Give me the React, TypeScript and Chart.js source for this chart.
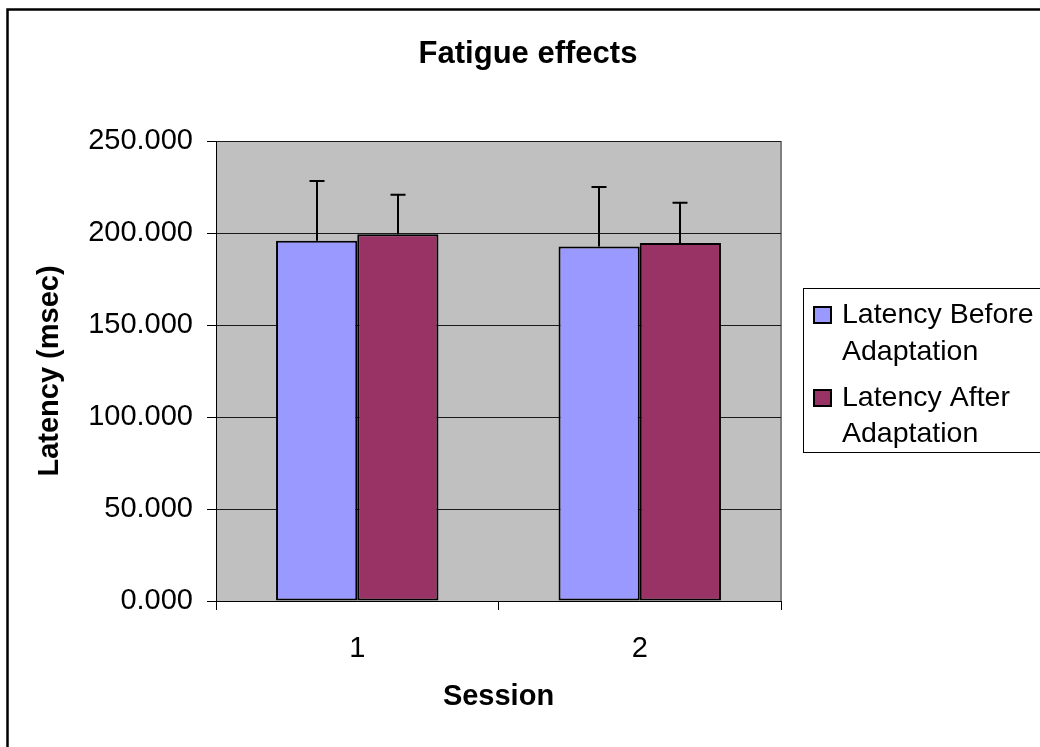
import React, { useEffect, useRef } from 'react';
import { Chart, registerables } from 'chart.js';

Chart.register(...registerables);

const categories = ['1', '2'];
const beforeValues = [195.8, 192.6];
const afterValues = [199.3, 194.6];
const beforeErrors = [32.5, 32.4];
const afterErrors = [21.5, 21.9];
const yTickLabels = ['0.000', '50.000', '100.000', '150.000', '200.000', '250.000'];
const seriesLabels = ['Latency Before Adaptation', 'Latency After Adaptation'];
const legendLines = [
  ['Latency Before', 'Adaptation'],
  ['Latency After', 'Adaptation'],
];
const seriesColors = ['#9999FF', '#993366'];
const titleText = 'Fatigue effects';
const yTitle = 'Latency (msec)';
const xTitle = 'Session';

const FONT = '"Liberation Sans", Arial, sans-serif';
const W = 1040;
const H = 747;

const errorSets = [beforeErrors, afterErrors];

const customPlugin = {
  id: 'customDecor',
  beforeDraw(chart: any) {
    const { ctx, chartArea: a } = chart;
    ctx.save();
    ctx.fillStyle = '#ffffff';
    ctx.fillRect(0, 0, chart.width, chart.height);
    ctx.fillStyle = '#C0C0C0';
    ctx.fillRect(a.left, a.top, a.right - a.left, a.bottom - a.top);
    ctx.strokeStyle = '#808080';
    ctx.lineWidth = 2;
    ctx.beginPath();
    ctx.moveTo(a.right, a.top);
    ctx.lineTo(a.right, a.bottom);
    ctx.stroke();
    ctx.strokeStyle = '#000000';
    ctx.lineWidth = 2.5;
    ctx.beginPath();
    ctx.moveTo(7.5, chart.height + 10);
    ctx.lineTo(7.5, 9.5);
    ctx.lineTo(chart.width + 10, 9.5);
    ctx.stroke();
    ctx.restore();
  },
  afterDatasetsDraw(chart: any) {
    const { ctx } = chart;
    const yScale = chart.scales.y;
    ctx.save();
    ctx.strokeStyle = '#000000';
    ctx.lineWidth = 2;
    chart.data.datasets.forEach((ds: any, i: number) => {
      const meta = chart.getDatasetMeta(i);
      meta.data.forEach((el: any, j: number) => {
        const v = ds.data[j];
        const yTop = yScale.getPixelForValue(v + errorSets[i][j]);
        const x = Math.round(el.x);
        ctx.beginPath();
        ctx.moveTo(x, el.y);
        ctx.lineTo(x, yTop);
        ctx.moveTo(x - 7.5, yTop);
        ctx.lineTo(x + 7.5, yTop);
        ctx.stroke();
      });
    });
    ctx.restore();
  },
  afterDraw(chart: any) {
    const { ctx } = chart;
    ctx.save();
    ctx.fillStyle = '#000000';
    ctx.font = `bold 31px ${FONT}`;
    ctx.textAlign = 'center';
    ctx.textBaseline = 'alphabetic';
    ctx.fillText(titleText, 528, 63);

    ctx.strokeStyle = '#000000';
    ctx.lineWidth = 1;
    ctx.strokeRect(803.5, 288.5, 300, 164);
    ctx.font = `28.5px ${FONT}`;
    ctx.textAlign = 'left';
    const baselines = [
      [323, 360],
      [406, 442],
    ];
    legendLines.forEach((lines, i) => {
      const b = baselines[i];
      ctx.fillStyle = seriesColors[i];
      ctx.fillRect(813, b[0] - 17, 19, 18);
      ctx.strokeStyle = '#000000';
      ctx.lineWidth = 2;
      ctx.strokeRect(814, b[0] - 16, 17, 16);
      ctx.fillStyle = '#000000';
      lines.forEach((t, k) => {
        ctx.fillText(t, 842, b[k]);
      });
    });
    ctx.restore();
  },
};

export default function App() {
  const ref = useRef<HTMLCanvasElement | null>(null);

  useEffect(() => {
    if (!ref.current) return;
    const chart = new Chart(ref.current, {
      type: 'bar',
      data: {
        labels: categories,
        datasets: [
          {
            label: seriesLabels[0],
            data: beforeValues,
            backgroundColor: seriesColors[0],
            borderColor: '#000000',
            borderWidth: 2,
            borderSkipped: false,
            barPercentage: 1,
            categoryPercentage: 0.575,
          },
          {
            label: seriesLabels[1],
            data: afterValues,
            backgroundColor: seriesColors[1],
            borderColor: '#000000',
            borderWidth: 2,
            borderSkipped: false,
            barPercentage: 1,
            categoryPercentage: 0.575,
          },
        ],
      },
      options: {
        responsive: false,
        animation: false,
        devicePixelRatio: 1,
        layout: { padding: { left: 0, top: 141, right: W - 781, bottom: 0 } },
        plugins: {
          legend: { display: false },
          title: { display: false },
          tooltip: { enabled: false },
        },
        scales: {
          x: {
            type: 'category',
            offset: true,
            grid: {
              offset: true,
              drawOnChartArea: false,
              drawTicks: true,
              tickLength: 9,
              color: '#000000',
              tickColor: '#000000',
            },
            border: { display: true, color: '#000000', width: 1 },
            ticks: {
              color: '#000000',
              padding: 22,
              font: { family: FONT, size: 29 },
            },
            title: {
              display: true,
              text: xTitle,
              color: '#000000',
              font: { family: FONT, size: 29, weight: 'bold' },
              padding: { top: 0, bottom: 33 },
            },
            afterFit(scale: any) {
              scale.height = H - 601;
            },
          },
          y: {
            min: 0,
            max: 250,
            ticks: {
              stepSize: 50,
              color: '#000000',
              padding: 14,
              font: { family: FONT, size: 29 },
              callback: (_v: any, idx: number) => yTickLabels[idx],
            },
            grid: {
              color: '#1a1a1a',
              tickColor: '#000000',
              lineWidth: 1,
              tickLength: 9,
            },
            border: { display: true, color: '#000000', width: 1 },
            title: {
              display: true,
              text: yTitle,
              color: '#000000',
              font: { family: FONT, size: 29, weight: 'bold' },
              padding: { top: 33, bottom: 0 },
            },
            afterFit(scale: any) {
              scale.width = 216;
            },
          },
        },
      },
      plugins: [customPlugin],
    } as any);
    return () => chart.destroy();
  }, []);

  return (
    <div style={{ position: 'fixed', left: 0, top: 0, width: W, height: H, background: '#fff' }}>
      <canvas ref={ref} width={W} height={H} style={{ display: 'block', width: W, height: H }} />
    </div>
  );
}
